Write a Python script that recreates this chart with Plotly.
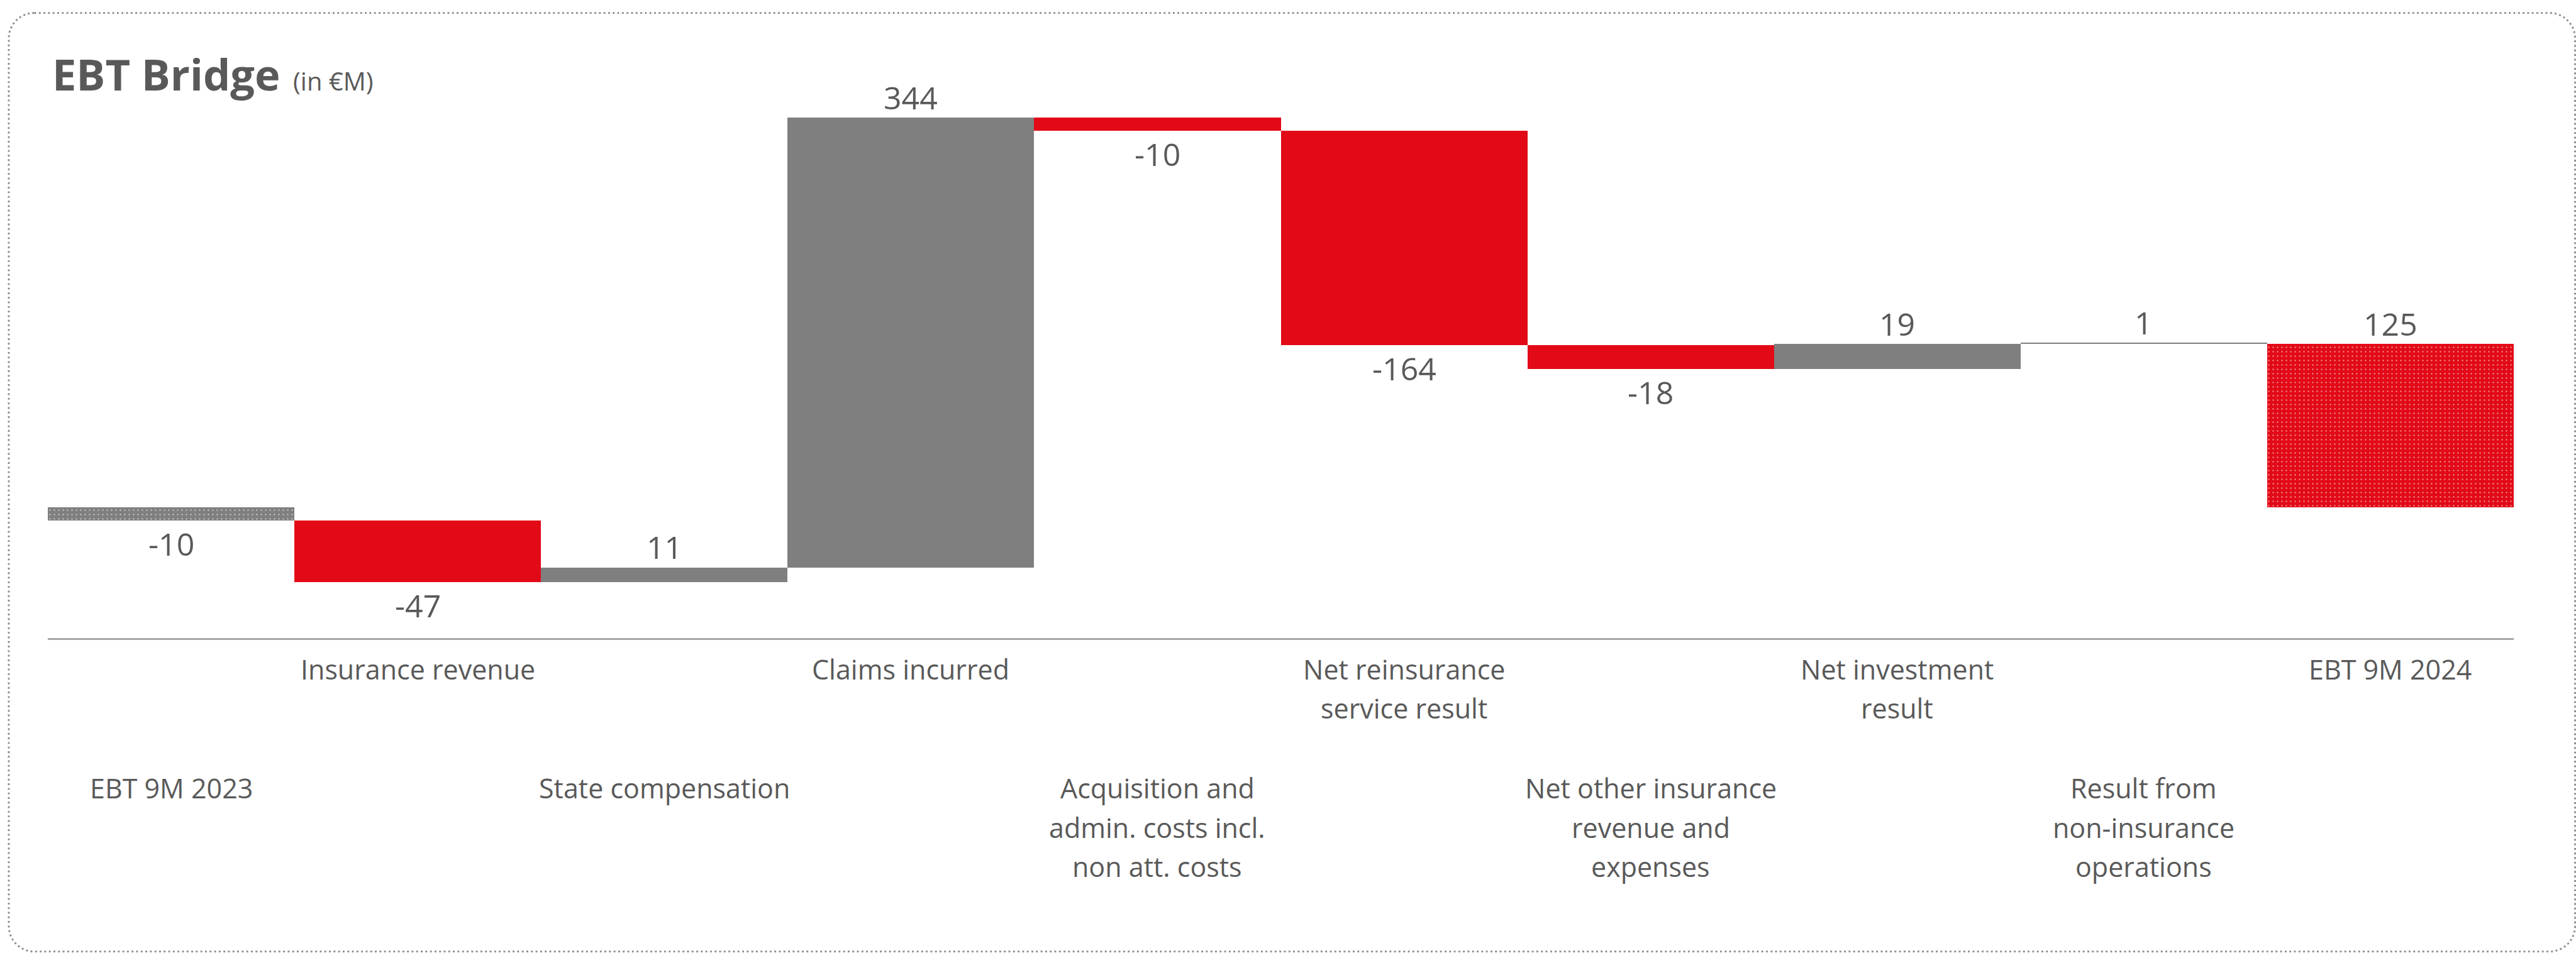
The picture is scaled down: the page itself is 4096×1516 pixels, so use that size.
import plotly.graph_objects as go

# ---------------- data ----------------
categories = [
    "EBT 9M 2023",
    "Insurance revenue",
    "State compensation",
    "Claims incurred",
    "Acquisition and admin. costs incl. non att. costs",
    "Net reinsurance service result",
    "Net other insurance revenue and expenses",
    "Net investment result",
    "Result from non-insurance operations",
    "EBT 9M 2024",
]
category_lines = [
    ["EBT 9M 2023"],
    ["Insurance revenue"],
    ["State compensation"],
    ["Claims incurred"],
    ["Acquisition and", "admin. costs incl.", "non att. costs"],
    ["Net reinsurance", "service result"],
    ["Net other insurance", "revenue and", "expenses"],
    ["Net investment", "result"],
    ["Result from", "non-insurance", "operations"],
    ["EBT 9M 2024"],
]
values = [-10, -47, 11, 344, -10, -164, -18, 19, 1, 125]
measures = ["absolute", "relative", "relative", "relative", "relative",
            "relative", "relative", "relative", "relative", "total"]
value_labels = ["-10", "-47", "11", "344", "-10", "-164", "-18", "19", "1", "125"]

# ---------------- styling ----------------
RED = "#E20A17"
GRAY = "#7F7F7F"
TEXT = "#595959"
FONT = "Open Sans"
total_colors = {"EBT 9M 2023": GRAY, "EBT 9M 2024": RED}

S = 0.881                      # drawing scale
W, H = 4096, 1516
PLOT_L, PLOT_R = 86 * S, 4537 * S
Y_MIN, Y_MAX = -100, 380
ZERO_PX = 916 * S
PPU = 2.36 * S                 # pixels per unit
PLOT_T = ZERO_PX - Y_MAX * PPU
PLOT_B = ZERO_PX - Y_MIN * PPU


def paper_x(px):
    return (px - PLOT_L) / (PLOT_R - PLOT_L)


def paper_y(py):
    return (PLOT_B - py) / (PLOT_B - PLOT_T)


# ---------------- waterfall geometry ----------------
bases, running = [], 0
for v, m in zip(values, measures):
    if m == "relative":
        bases.append(running)
        running += v
    else:
        bases.append(0)
        running = v

colors, shapes_pat = [], []
for c, v, m in zip(categories, values, measures):
    if m == "relative":
        colors.append(RED if v < 0 else GRAY)
        shapes_pat.append("")
    else:
        colors.append(total_colors[c])
        shapes_pat.append(".")

fig = go.Figure()
fig.add_trace(go.Bar(
    x=categories,
    y=values,
    base=bases,
    marker=dict(
        color=colors,
        line=dict(width=0),
        pattern=dict(shape=shapes_pat, fgcolor="white", size=7, solidity=0.1),
    ),
    hoverinfo="skip",
    showlegend=False,
))

annotations = []

# value labels
for c, v, b, lab in zip(categories, values, bases, value_labels):
    end = b + v
    annotations.append(dict(
        x=c, y=end, xref="x", yref="y", text=lab, showarrow=False,
        xanchor="center", yanchor="middle",
        yshift=32.5 if v >= 0 else -37,
        font=dict(family=FONT, size=50, color=TEXT),
    ))

# category labels, alternating between two rows
ROW_PX = [1424.5 * S, 1209.4 * S]
LINE_STEP = 70.7 * S
for i, (c, lines) in enumerate(zip(categories, category_lines)):
    top = ROW_PX[i % 2]
    for k, line in enumerate(lines):
        annotations.append(dict(
            x=c, y=paper_y(top + k * LINE_STEP - 1.3), xref="x", yref="paper",
            text=line, showarrow=False, xanchor="center", yanchor="middle",
            font=dict(family=FONT, size=43, color=TEXT),
        ))

# title
annotations.append(dict(
    x=paper_x(81), y=paper_y(143.6 - 0.388 * 68.5), xref="paper", yref="paper",
    text="<b>EBT Bridge</b>", showarrow=False, xanchor="left", yanchor="middle",
    font=dict(family=FONT, size=68.5, color=TEXT),
))
annotations.append(dict(
    x=paper_x(464), y=paper_y(143.6 - 0.388 * 40), xref="paper", yref="paper",
    text="(in €M)", showarrow=False, xanchor="left", yanchor="middle",
    font=dict(family=FONT, size=40, color=TEXT),
))

# dotted rounded frame around the chart
fl, fr, ft, fb, rad = 15.6 * S, 4647.7 * S, 23.3 * S, 1718 * S, 46 * S
k = 0.5523 * rad


def pt(px, py):
    return f"{paper_x(px):.6f},{paper_y(py):.6f}"


frame_path = (
    f"M {pt(fl + rad, ft)} L {pt(fr - rad, ft)} "
    f"C {pt(fr - rad + k, ft)} {pt(fr, ft + rad - k)} {pt(fr, ft + rad)} "
    f"L {pt(fr, fb - rad)} "
    f"C {pt(fr, fb - rad + k)} {pt(fr - rad + k, fb)} {pt(fr - rad, fb)} "
    f"L {pt(fl + rad, fb)} "
    f"C {pt(fl + rad - k, fb)} {pt(fl, fb - rad + k)} {pt(fl, fb - rad)} "
    f"L {pt(fl, ft + rad)} "
    f"C {pt(fl, ft + rad - k)} {pt(fl + rad - k, ft)} {pt(fl + rad, ft)} Z"
)

fig.update_layout(
    width=W, height=H,
    margin=dict(l=PLOT_L, r=W - PLOT_R, t=PLOT_T, b=H - PLOT_B, autoexpand=False),
    paper_bgcolor="white", plot_bgcolor="white",
    bargap=0,
    annotations=annotations,
    shapes=[dict(type="path", xref="paper", yref="paper", path=frame_path,
                 line=dict(color="#8C8C8C", width=2.9, dash="2.9px,4.4px"),
                 fillcolor="rgba(0,0,0,0)", layer="above")],
    xaxis=dict(type="category", range=[-0.5, len(categories) - 0.5],
               showticklabels=False, ticks="", showgrid=False, zeroline=False,
               showline=True, linecolor="#A6A6A6", linewidth=2.6, fixedrange=True),
    yaxis=dict(range=[Y_MIN, Y_MAX], visible=False, showgrid=False,
               zeroline=False, fixedrange=True),
)

fig.write_html("out.html")
